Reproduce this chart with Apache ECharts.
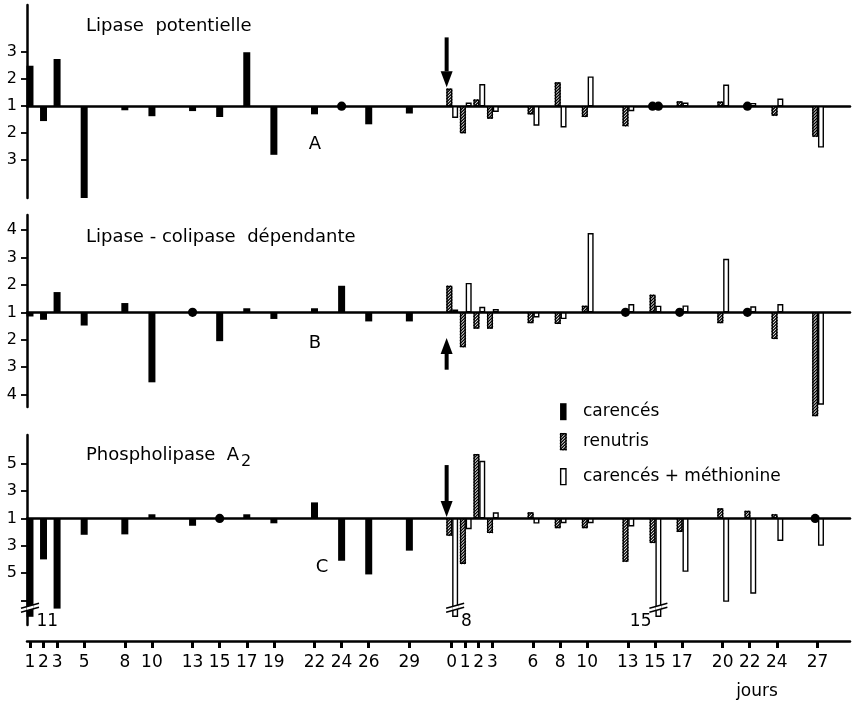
<!DOCTYPE html>
<html><head><meta charset="utf-8">
<script src="https://cdn.jsdelivr.net/npm/echarts@6/dist/echarts.min.js"></script>
<style>html,body{margin:0;padding:0;background:#fff}#chart{width:853px;height:701px}</style>
</head><body><div id="chart"></div>
<script>
// ---------------- DATA ----------------
// Days of deprivation (carencés) and days after refeeding (0 = start, arrow)
const daysCarence = [1, 2, 3, 5, 8, 10, 13, 15, 17, 19, 22, 24, 26, 29];
const daysRenutrition = [0, 1, 2, 3, 6, 8, 10, 13, 15, 17, 20, 22, 24, 27];
// Values = signed (ratio - 1): +1 = x2 increase, -1 = /2 decrease, 0 = unchanged (dot)
// A - Lipase potentielle
const lipasePotCarences   = [1.5, -0.55, 1.75, -3.4, -0.15, -0.37, -0.18, -0.4, 2.0, -1.8, -0.3, 0, -0.67, -0.27];
const lipasePotRenutris   = [0.65, -1.0, 0.25, -0.46, -0.3, 0.88, -0.4, -0.74, 0, 0.18, 0.17, 0, -0.35, -1.13];
const lipasePotMethionine = [-0.43, 0.13, 0.82, -0.21, -0.72, -0.78, 1.1, -0.18, 0, 0.13, 0.8, 0.12, 0.28, -1.53];
// B - Lipase - colipase dependante
const colipCarences   = [-0.15, -0.27, 0.74, -0.48, 0.34, -2.55, 0, -1.05, 0.15, -0.24, 0.15, 0.97, -0.33, -0.33];
const colipRenutris   = [0.97, -1.27, -0.59, -0.59, -0.39, -0.42, 0.24, 0, 0.64, 0, -0.39, 0, -0.97, -3.78];
const colipMethionine = [0.1, 1.07, 0.2, 0.12, -0.18, -0.24, 2.89, 0.3, 0.24, 0.25, 1.95, 0.22, 0.3, -3.36];
// C - Phospholipase A2
const phosphoCarences   = [-10, -3.0, -6.6, -1.2, -1.17, 0.3, -0.54, 0, 0.3, -0.36, 1.17, -3.1, -4.1, -2.36];
const phosphoRenutris   = [-1.27, -3.33, 4.7, -1.07, 0.44, -0.71, -0.71, -3.17, -1.8, -0.98, 0.73, 0.55, 0.3, 0];
const phosphoMethionine = [-7, -0.78, 4.2, 0.44, -0.37, -0.34, -0.34, -0.58, -14, -3.9, -6.1, -5.5, -1.64, -2.0];
// y-axis ticks (values), labelled as ratio |v|+1
const yTicksA = [2, 1, 0, -1, -2];
const yTicksB = [3, 2, 1, 0, -1, -2, -3];
const yTicksC = [4, 2, 0, -2, -4, -6];
const yLabelsC = [4, 2, 0, -2, -4];
// refeeding arrows (day 0), in data units: from -> to
const arrowA = [0, 2.55, 0.7];
const arrowB = [0, -2.09, -0.93];
const arrowC = [0, 3.9, 0.1];
const legendLabels = ['carencés', 'renutris', 'carencés + méthionine'];
const panelTitles = ['Lipase  potentielle', 'Lipase - colipase  dépendante', 'Phospholipase  A'];
const panelLetters = ['A', 'B', 'C'];

// ---------------- LAYOUT / STYLE ----------------
const FONT = 'DejaVu Sans';
const OFFSET = 32.12;           // gap between the two day scales
const X_MIN = 0.78, X_MAX = 61.52;
const PANELS = [
  { top: 5,   height: 193, min: -3.4,  max: 3.75, ticks: yTicksA, labels: yTicksA },
  { top: 215, height: 192, min: -3.45, max: 3.55, ticks: yTicksB, labels: yTicksB },
  { top: 435, height: 190, min: -7.8,  max: 6.1,  ticks: yTicksC, labels: yLabelsC, cap: -7.2, breakBelow: -6.8 }
];
const BAR = { black: { w: 7, shift: 0 }, hatch: { w: 5.8, shift: -2.3 }, open: { w: 5.8, shift: 3.5 } };

function hatchLines(x0, y0, x1, y1, step) {
  const out = [];
  for (let c = x0 + y0 + step / 2; c < x1 + y1; c += step) {
    const xa = Math.max(x0, c - y1), xb = Math.min(x1, c - y0);
    if (xb > xa) out.push({ type: 'line', shape: { x1: xa, y1: c - xa, x2: xb, y2: c - xb },
      style: { stroke: '#000', lineWidth: 1.35 } });
  }
  return out;
}
function boxEls(kind, cx, w, ya, yb) {
  const x0 = cx - w / 2, x1 = cx + w / 2;
  if (kind === 'black') return [{ type: 'rect', shape: { x: x0, y: ya, width: w, height: yb - ya }, style: { fill: '#000' } }];
  const els = [{ type: 'rect', shape: { x: x0 + 0.6, y: ya + 0.6, width: w - 1.2, height: Math.max(0.1, yb - ya - 1.2) },
    style: { fill: '#fff', stroke: '#000', lineWidth: 1.4 } }];
  if (kind === 'hatch') els.push(...hatchLines(x0, ya, x1, yb, 3));
  return els;
}
function makeRenderer(kind, panel, labelLeftDays) {
  return function (params, api) {
    const x = api.value(0), v = api.value(1), day = api.value(2);
    const p0 = api.coord([x, 0]);
    const cx = p0[0] + BAR[kind].shift, w = BAR[kind].w;
    if (v === 0) return { type: 'circle', shape: { cx: cx, cy: p0[1], r: 4.6 }, style: { fill: '#000' } };
    const broken = panel.breakBelow != null && v < panel.breakBelow;
    const pe = api.coord([x, broken ? panel.cap : v]);
    const ya = Math.min(p0[1], pe[1]), yb = Math.max(p0[1], pe[1]);
    const children = boxEls(kind, cx, w, ya, yb);
    if (broken) {
      const yc = yb - 8, x0 = cx - w / 2, x1 = cx + w / 2, slope = -5 / 18;
      const l1 = (xx) => yc - 3 + (xx - cx) * slope;
      const l2 = (xx) => yc + 1 + (xx - cx) * slope;
      children.push({ type: 'polygon', shape: { points: [[x0, l1(x0)], [x1, l1(x1)], [x1, l2(x1)], [x0, l2(x0)]] }, style: { fill: '#fff' } });
      [l1, l2].forEach(f => children.push({ type: 'line', shape: { x1: cx - 9, y1: f(cx - 9), x2: cx + 9, y2: f(cx + 9) }, style: { stroke: '#000', lineWidth: 1.4 } }));
      const left = labelLeftDays.indexOf(day) >= 0;
      children.push({ type: 'text', x: left ? cx - w / 2 - 4 : cx + w / 2 + 3, y: yb + 5,
        style: { text: String(Math.round(Math.abs(v) + 1)), fontSize: 17, fontFamily: FONT, fill: '#000',
          align: left ? 'right' : 'left', verticalAlign: 'middle' } });
    }
    return { type: 'group', children: children };
  };
}
function barSeries(panelIdx, days, offset, values, kind, labelLeftDays) {
  const data = [];
  days.forEach((d, i) => { if (values[i] != null) data.push([d + offset, values[i], d]); });
  return { type: 'custom', coordinateSystem: 'cartesian2d', xAxisIndex: panelIdx, yAxisIndex: panelIdx,
    clip: false, silent: true, z: 3, encode: { x: 0, y: 1 }, data: data,
    renderItem: makeRenderer(kind, PANELS[panelIdx], labelLeftDays || []) };
}
function arrowSeries(panelIdx, arrow) {
  return { type: 'custom', coordinateSystem: 'cartesian2d', xAxisIndex: panelIdx, yAxisIndex: panelIdx,
    clip: false, silent: true, z: 4, encode: { x: 0, y: [1, 2] }, data: [[arrow[0] + OFFSET, arrow[1], arrow[2]]],
    renderItem: function (params, api) {
      const a = api.coord([api.value(0), api.value(1)]), b = api.coord([api.value(0), api.value(2)]);
      const cx = a[0] - 5, dir = b[1] > a[1] ? 1 : -1, head = 16, hw = 6;
      const baseY = b[1] - dir * head;
      return { type: 'group', children: [
        { type: 'rect', shape: { x: cx - 2, y: Math.min(a[1], baseY), width: 4, height: Math.abs(baseY - a[1]) }, style: { fill: '#000' } },
        { type: 'polygon', shape: { points: [[cx - hw, baseY], [cx + hw, baseY], [cx, b[1]]] }, style: { fill: '#000' } }
      ] };
    } };
}

const tickPositions = daysCarence.concat(daysRenutrition.map(d => d + OFFSET));
const series = [
  barSeries(0, daysCarence, 0, lipasePotCarences, 'black'),
  barSeries(0, daysRenutrition, OFFSET, lipasePotRenutris, 'hatch'),
  barSeries(0, daysRenutrition, OFFSET, lipasePotMethionine, 'open'),
  barSeries(1, daysCarence, 0, colipCarences, 'black'),
  barSeries(1, daysRenutrition, OFFSET, colipRenutris, 'hatch'),
  barSeries(1, daysRenutrition, OFFSET, colipMethionine, 'open'),
  barSeries(2, daysCarence, 0, phosphoCarences, 'black'),
  barSeries(2, daysRenutrition, OFFSET, phosphoRenutris, 'hatch'),
  barSeries(2, daysRenutrition, OFFSET, phosphoMethionine, 'open', [15]),
  arrowSeries(0, arrowA), arrowSeries(1, arrowB), arrowSeries(2, arrowC)
];

const axisBlack = { color: '#000', width: 2.5 };
const xAxes = PANELS.map((p, i) => ({
  gridIndex: i, type: 'value', min: X_MIN, max: X_MAX, position: i === 2 ? 'top' : 'bottom',
  axisLine: { show: true, onZero: true, lineStyle: axisBlack },
  axisTick: { show: false }, axisLabel: { show: false }, splitLine: { show: false }
}));
xAxes.push({
  gridIndex: 2, type: 'value', min: X_MIN, max: X_MAX, position: 'bottom', offset: 16,
  axisLine: { show: true, onZero: false, lineStyle: axisBlack },
  axisTick: { show: true, length: 7, lineStyle: { color: '#000', width: 3 }, customValues: tickPositions },
  axisLabel: { show: true, customValues: tickPositions, margin: 13, fontSize: 17, fontFamily: FONT, color: '#000',
    formatter: v => String(v > OFFSET - 1 ? Math.round(v - OFFSET) : Math.round(v)) },
  splitLine: { show: false }
});
const yAxes = PANELS.map((p, i) => ({
  gridIndex: i, type: 'value', min: p.min, max: p.max,
  axisLine: { show: true, onZero: false, lineStyle: axisBlack },
  axisTick: { show: true, length: 6, lineStyle: { color: '#000', width: 1.8 }, customValues: p.ticks },
  axisLabel: { show: true, customValues: p.labels, margin: 10, fontSize: 16, fontFamily: FONT, color: '#000',
    formatter: v => String(Math.round(Math.abs(v) + 1)) },
  splitLine: { show: false }
}));

const graphics = [];
const titleY = [26, 237, 455];
panelTitles.forEach((t, i) => graphics.push({ type: 'text', x: 86, y: titleY[i],
  style: { text: t, fontSize: 18, fontFamily: FONT, fill: '#000', verticalAlign: 'middle' } }));
graphics.push({ type: 'text', x: 241, y: 462, style: { text: '2', fontSize: 16, fontFamily: FONT, fill: '#000', verticalAlign: 'middle' } });
const letterPos = [[315, 144], [315, 343], [322, 567]];
panelLetters.forEach((t, i) => graphics.push({ type: 'text', x: letterPos[i][0], y: letterPos[i][1],
  style: { text: t, fontSize: 18, fontFamily: FONT, fill: '#000', align: 'center', verticalAlign: 'middle' } }));
graphics.push({ type: 'text', x: 757, y: 692, style: { text: 'jours', fontSize: 17, fontFamily: FONT, fill: '#000', align: 'center', verticalAlign: 'middle' } });
const legendY = [411.7, 441.7, 476.7], legendKinds = ['black', 'hatch', 'open'];
legendLabels.forEach((t, i) => {
  const y = legendY[i];
  graphics.push({ type: 'group', children: boxEls(legendKinds[i], 563.3, 6.5, y - 8.5, y + 8.5) });
  graphics.push({ type: 'text', x: 583, y: y, style: { text: t, fontSize: 17, fontFamily: FONT, fill: '#000', verticalAlign: 'middle' } });
});

const chart = echarts.init(document.getElementById('chart'));
chart.setOption({
  animation: false,
  backgroundColor: '#fff',
  textStyle: { fontFamily: FONT, color: '#000' },
  grid: PANELS.map(p => ({ left: 27, right: 3, top: p.top, height: p.height, containLabel: false, outerBoundsMode: 'none' })),
  xAxis: xAxes,
  yAxis: yAxes,
  series: series,
  graphic: graphics
});
</script></body></html>
